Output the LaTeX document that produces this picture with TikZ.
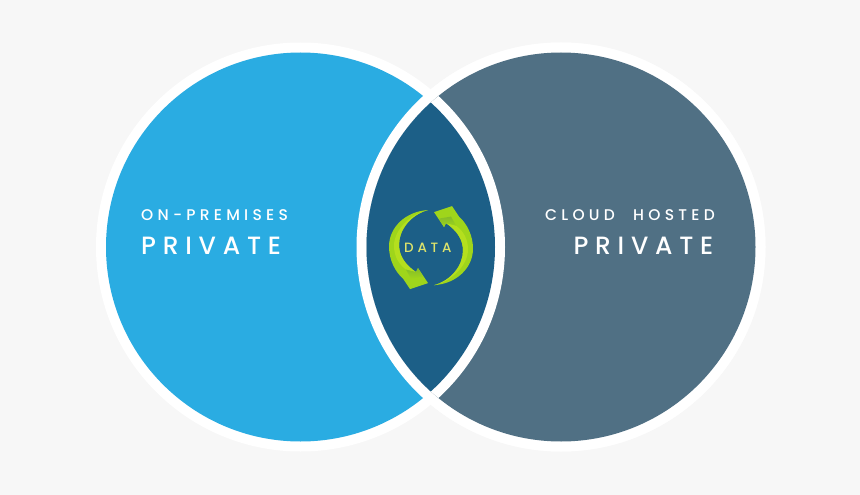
\documentclass[tikz,border=0pt]{standalone}
\usepackage{fontspec}
\setmainfont{Poppins}
\newfontfamily\datafont{Poppins Medium}
\definecolor{bgc}{HTML}{F7F7F7}
\definecolor{blueC}{HTML}{2AACE2}
\definecolor{greyC}{HTML}{507084}
\definecolor{lensC}{HTML}{1C5F87}
\definecolor{limeA}{HTML}{9FD51B}
\definecolor{limeB}{HTML}{84BC2A}
\definecolor{limeC}{HTML}{B4DF1E}
\definecolor{dataC}{HTML}{DDE36B}
\tikzset{
 smalllabel/.style={text=white,inner sep=0pt,font=\fontsize{15.5pt}{17pt}\datafont\addfontfeature{LetterSpace=#1}},
 smalllabel/.default=27.5,
 biglabel/.style={text=white,inner sep=0pt,font=\fontsize{25pt}{27pt}\datafont\addfontfeature{LetterSpace=27}},
 datalabel/.style={text=dataC,inner sep=0pt,font=\fontsize{13.5pt}{15pt}\datafont\addfontfeature{LetterSpace=28}},
 pics/cyclearrow/.style={code={
   \fill[limeA] (-3,-37.6) .. controls (-26,-36) and (-42,-20) .. (-42,-1)
      .. controls (-42,12) and (-36,24) .. (-28,31) -- (-21,41.5) -- (-3,35.5) -- (-13,20.5) -- (-15,24.5)
      .. controls (-26,17) and (-32,8) .. (-32,-3) .. controls (-32,-18) and (-20,-33) .. (-3,-37.6) -- cycle;
   \fill[limeC] (-3,-37.6) .. controls (-20,-34) and (-37,-18) .. (-37,-2)
      .. controls (-37,8) and (-33,16) .. (-25,22) -- (-15,24.5)
      .. controls (-26,17) and (-32,8) .. (-32,-3) .. controls (-32,-18) and (-20,-33) .. (-3,-37.6) -- cycle;
   \shade[top color=limeB,bottom color=limeA] (-25,22) -- (-15,24.5) -- (-13,20.5) -- (-8,29) -- (-20,31) -- cycle;
 }}
}
\begin{document}
\begin{tikzpicture}[x=1pt,y=-1pt]
\useasboundingbox (0,0) rectangle (860,495);
\fill[bgc] (0,0) rectangle (860,495);
\coordinate (L) at (300.5,247);
\coordinate (R) at (561,247);
% white discs
\fill[white] (L) circle[radius=204.5pt];
\fill[white] (R) circle[radius=204.5pt];
% left disc, then right disc with its white border over it
\fill[blueC] (L) circle[radius=194.5pt];
\fill[white] (R) circle[radius=204.5pt];
\fill[greyC] (R) circle[radius=194.5pt];
% white border of left disc over the right disc
\begin{scope}
\clip (R) circle[radius=194.5pt];
\fill[white] (L) circle[radius=204.5pt];
\clip (L) circle[radius=194.5pt];
\fill[lensC] (R) circle[radius=194.5pt];
\end{scope}
\pic at (431,247.6) {cyclearrow};
\pic[rotate=180] at (431,247.6) {cyclearrow};
\node[datalabel,anchor=west] (d) at (404,247.5) {DATA};
\node[smalllabel,anchor=west] (a) at (141,215) {ON-PREMISES};
\node[biglabel,anchor=west] (b) at (141,246) {PRIVATE};
\node[smalllabel,anchor=east] (c) at (715,215) {CLOUD\hspace{10pt} HOSTED};
\node[biglabel,anchor=east] (e) at (713.5,246) {PRIVATE};
\end{tikzpicture}
\end{document}
